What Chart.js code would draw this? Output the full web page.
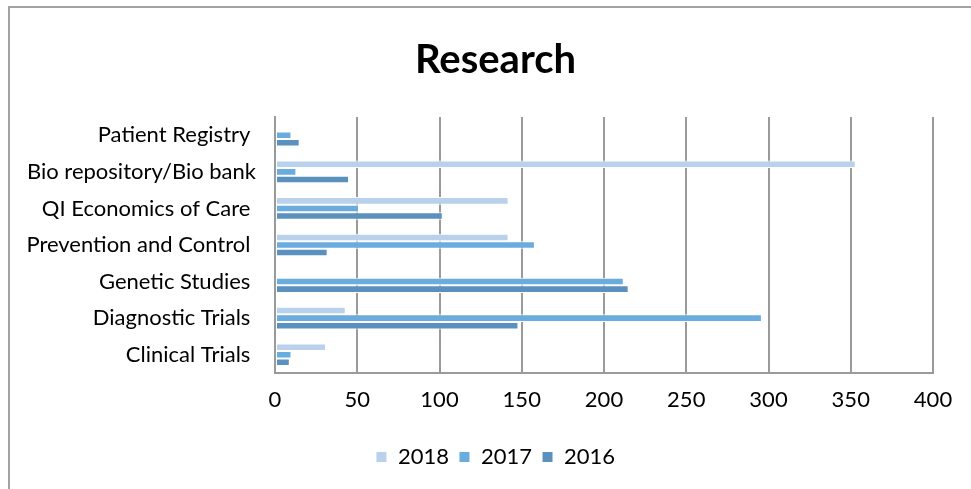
<!DOCTYPE html>
<html>
<head>
<meta charset="utf-8">
<script src="https://cdn.jsdelivr.net/npm/chart.js@4"></script>
<style>
  html, body { margin: 0; padding: 0; background: #fff; }
  #wrap { position: relative; width: 971px; height: 489px; overflow: hidden; }
  #frame {
    position: absolute; left: 8px; top: 6px; width: 1000px; height: 600px;
    border-top: 2px solid #a3a3a3; border-left: 2px solid #a3a3a3;
  }
  canvas { position: absolute; left: 0; top: 0; }
</style>
</head>
<body>
<div id="wrap">
  <div id="frame"></div>
  <canvas id="researchChart" width="971" height="489"></canvas>
</div>
<script>
// ==============================
// Data
// ==============================
const categories = [
    'Patient Registry ',
    'Bio repository/Bio bank',
    'QI Economics of Care ',
    'Prevention and Control ',
    'Genetic Studies ',
    'Diagnostic Trials ',
    'Clinical Trials '
];
const values2018 = [0, 353, 142, 142, 0, 43, 31];
const values2017 = [10, 13, 51, 158, 212, 296, 10];
const values2016 = [15, 45, 102, 32, 215, 148, 9];
const xTicks = [0, 50, 100, 150, 200, 250, 300, 350, 400];

const fontFamily = 'Lato, "Open Sans", sans-serif';

// ==============================
// Chart
// ==============================
const ctx = document.getElementById('researchChart').getContext('2d');
const researchChart = new Chart(ctx, {
    type: 'bar',
    data: {
        labels: categories,
        datasets: [
            { label: '2018', data: values2018, backgroundColor: '#b9d1ea' },
            { label: '2017', data: values2017, backgroundColor: '#6aacde' },
            { label: '2016', data: values2016, backgroundColor: '#5b91be' }
        ]
    },
    options: {
        indexAxis: 'y',
        responsive: false,
        animation: false,
        datasets: {
            bar: {
                categoryPercentage: 0.62,
                barPercentage: 1.0,
                borderColor: '#ffffff',
                borderWidth: 1,
                borderSkipped: false
            }
        },
        layout: { padding: { left: 20, right: 0, top: 0, bottom: 11 } },
        scales: {
            x: {
                min: 0,
                max: 400,
                afterBuildTicks: (scale) => { scale.ticks = xTicks.map(v => ({ value: v })); },
                afterFit: (scale) => {
                    scale.height = 63;
                    scale.paddingRight = 38; // room right of the plot, keeps title centred
                },
                grid: { color: '#9a9a9a', lineWidth: 2, drawTicks: false },
                border: { display: true, color: '#9a9a9a', width: 2 },
                ticks: {
                    padding: 14,
                    color: '#000',
                    font: { family: fontFamily, size: 22 }
                }
            },
            y: {
                afterFit: (scale) => { scale.width = 255; },
                grid: { display: false, drawTicks: false },
                border: { display: true, color: '#9a9a9a', width: 2 },
                ticks: {
                    padding: 19,
                    color: '#000',
                    font: { family: fontFamily, size: 22 }
                }
            }
        },
        plugins: {
            title: {
                display: true,
                text: 'Research',
                color: '#000',
                font: { family: fontFamily, size: 40, weight: 'bold' },
                padding: { top: 36, bottom: 33 }
            },
            legend: {
                display: true,
                position: 'bottom',
                labels: {
                    boxWidth: 11,
                    boxHeight: 11,
                    padding: 10,
                    color: '#000',
                    font: { family: fontFamily, size: 22 }
                }
            },
            tooltip: { enabled: false }
        }
    }
});
</script>
</body>
</html>
